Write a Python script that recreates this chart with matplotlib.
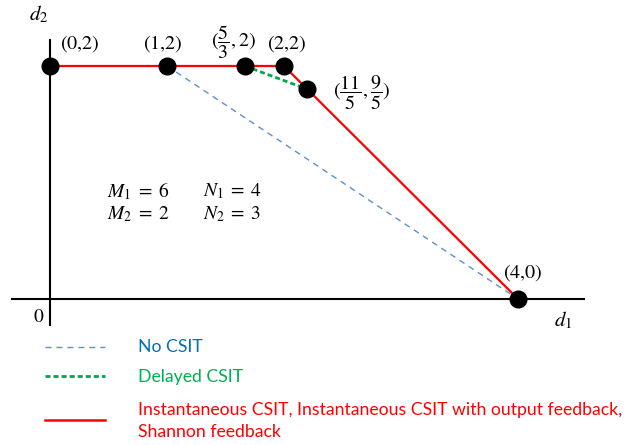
import matplotlib
matplotlib.use("Agg")
import matplotlib.pyplot as plt

plt.rcParams['mathtext.fontset'] = 'stix'

# Region corner points (d1, d2)
full_d1 = [0, 1, 5/3, 2, 11/5, 4]
full_d2 = [2, 2, 2, 2, 9/5, 0]
red_d1 = [0, 2, 11/5, 4]
red_d2 = [2, 2, 9/5, 0]
green_d1 = [5/3, 11/5]
green_d2 = [2, 9/5]
blue_d1 = [1, 4]
blue_d2 = [2, 0]
point_labels = [r'$(0{,}2)$', r'$(1{,}2)$', r'$(\dfrac{5}{3},2)$', r'$(2{,}2)$',
                r'$(\dfrac{11}{5},\dfrac{9}{5})$', r'$(4{,}0)$']
legend_labels = ['No CSIT', 'Delayed CSIT',
                 'Instantaneous CSIT, Instantaneous CSIT with output feedback,\nShannon feedback']

W, H = 626, 445
fig = plt.figure(figsize=(W/100, H/100), dpi=100)
ax = fig.add_axes([0, 0, 1, 1])
sx, sy = 117.0, 116.5
x0, y0 = 50, 299
ax.set_xlim(-x0/sx, (W-x0)/sx)
ax.set_ylim(-(H-y0)/sy, y0/sy)
ax.axis('off')

def px(x, y):
    return ((x - x0)/sx, (y0 - y)/sy)

# axes
ax.plot([px(12, 0)[0], px(584, 0)[0]], [0, 0], color='black', lw=1.5)
ax.plot([0, 0], [px(0, 325)[1], px(0, 40)[1]], color='black', lw=1.5)

blue_c, green_c, red_c = '#5B8ED6', '#00A650', '#FF0000'
ax.plot(blue_d1, blue_d2, color=blue_c, lw=1.0, dashes=(4.3, 3.6))
ax.plot(green_d1, green_d2, color=green_c, lw=2.0, dashes=(1.8, 1.1))
ax.plot(red_d1, red_d2, color=red_c, lw=1.6)
ax.plot(full_d1, full_d2, 'o', color='black', ms=12, zorder=5, ls='none')

label_px = [(80, 44), (163, 44), (234, 42), (287, 44), (362, 93), (523, 273)]
for lab, (lx, ly) in zip(point_labels, label_px):
    ax.text(*px(lx, ly), lab, fontsize=14.5, ha='center', va='center')

ax.text(*px(39, 316), r'$0$', fontsize=14, ha='center', va='center')
ax.text(*px(563, 320), r'$d_1$', fontsize=15, ha='center', va='center')
ax.text(*px(39, 14), r'$d_2$', fontsize=15, ha='center', va='center')

ax.text(*px(107, 191), r'$M_1\;=\;6$', fontsize=14, ha='left', va='center')
ax.text(*px(203, 191), r'$N_1\;=\;4$', fontsize=14, ha='left', va='center')
ax.text(*px(107, 214), r'$M_2\;=\;2$', fontsize=14, ha='left', va='center')
ax.text(*px(203, 214), r'$N_2\;=\;3$', fontsize=14, ha='left', va='center')

# legend
leg_colors = ['#0070C0', '#00B050', '#FF0000']
ax.plot([px(45, 0)[0], px(105, 0)[0]], [px(0, 347)[1]]*2, color=blue_c, lw=1.0, dashes=(4.3, 3.6))
ax.plot([px(45, 0)[0], px(105, 0)[0]], [px(0, 376)[1]]*2, color=green_c, lw=2.0, dashes=(1.8, 1.1))
ax.plot([px(45, 0)[0], px(105, 0)[0]], [px(0, 420)[1]]*2, color=red_c, lw=1.8)
ax.text(*px(138, 347), legend_labels[0], fontsize=12.7, color=leg_colors[0], ha='left', va='center', family='Lato')
ax.text(*px(138, 377), legend_labels[1], fontsize=12.7, color=leg_colors[1], ha='left', va='center', family='Lato')
ax.text(*px(138, 421), legend_labels[2], fontsize=12.7, color=leg_colors[2], ha='left', va='center',
        family='Lato', linespacing=1.4)

fig.savefig('out.png', dpi=100)
